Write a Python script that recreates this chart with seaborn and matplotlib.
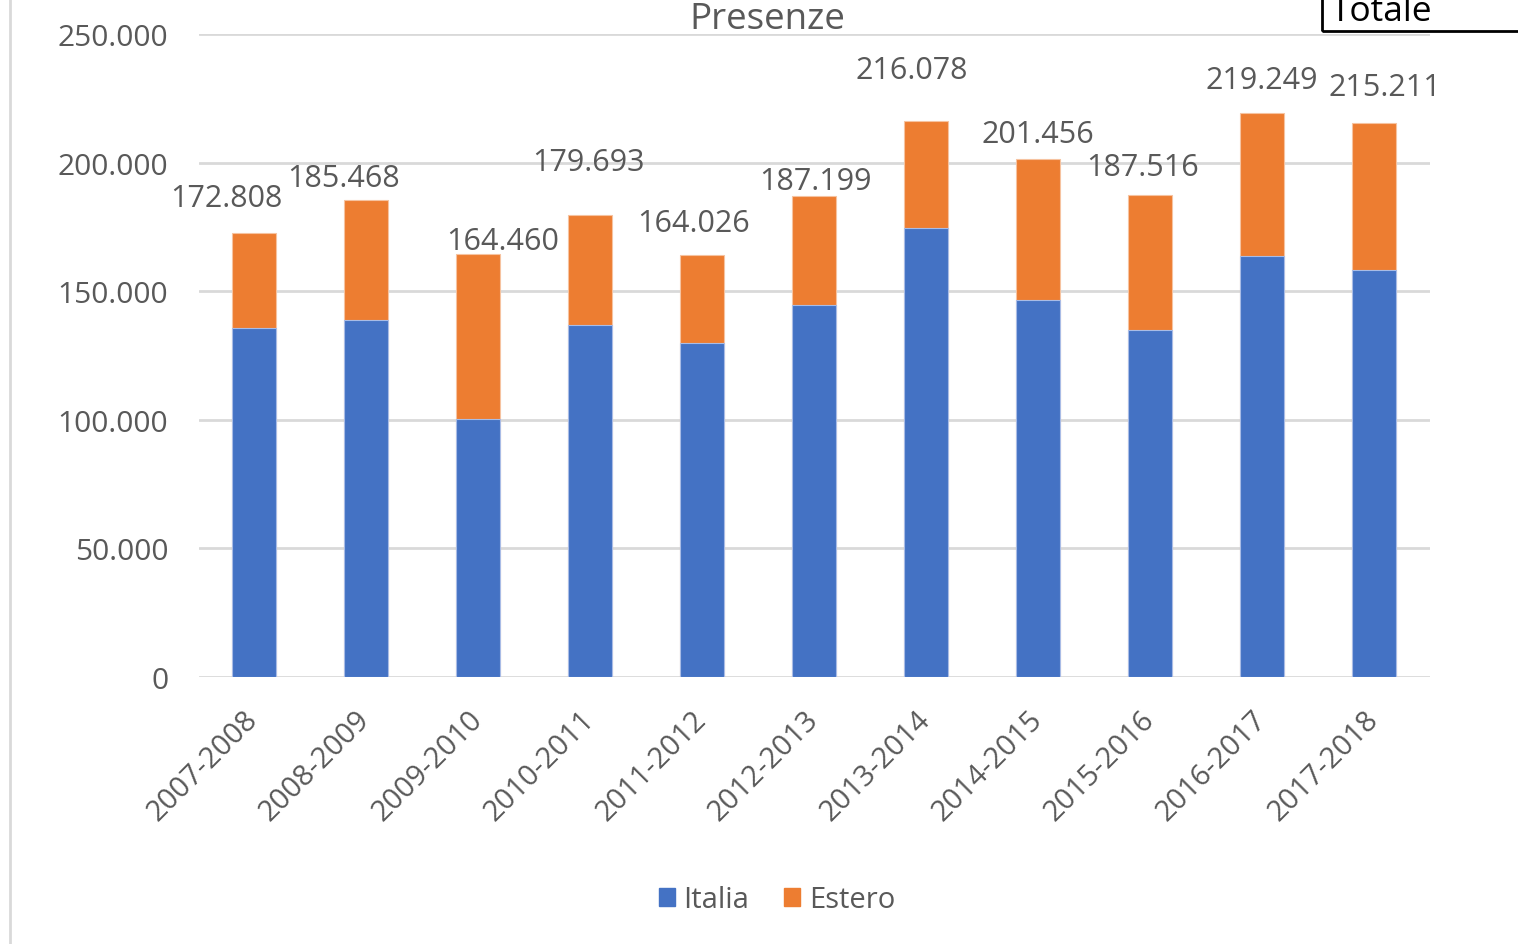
import matplotlib
matplotlib.use("Agg")
import matplotlib.pyplot as plt
import seaborn as sns
import pandas as pd
from matplotlib.patches import Patch, Rectangle
from matplotlib.lines import Line2D

seasons = ["2007-2008", "2008-2009", "2009-2010", "2010-2011", "2011-2012",
           "2012-2013", "2013-2014", "2014-2015", "2015-2016", "2016-2017", "2017-2018"]
totale = [172808, 185468, 164460, 179693, 164026, 187199, 216078, 201456, 187516, 219249, 215211]
italia = [135700, 138800, 100300, 136900, 129900, 144600, 174600, 146600, 134900, 163700, 158200]
total_labels = ["172.808", "185.468", "164.460", "179.693", "164.026", "187.199",
                "216.078", "201.456", "187.516", "219.249", "215.211"]
y_ticks = [0, 50000, 100000, 150000, 200000, 250000]
y_tick_labels = ["0", "50.000", "100.000", "150.000", "200.000", "250.000"]

# label placement offsets (points) relative to bar top centre (layout only)
label_dx = [-20, -16, 18, -1, -6, 1, -10, 0, -5, 0, 8]
label_dy = [25, 16, 9.5, 38, 23, 10.5, 37, 18, 20, 24, 26]

BLUE = "#4472C4"
ORANGE = "#ED7D31"
GREY = "#595959"

sns.set_theme(style="white")
plt.rcParams["font.family"] = ["Open Sans", "DejaVu Sans"]

df = pd.DataFrame({"season": seasons, "totale": totale, "italia": italia})
df["estero"] = df["totale"] - df["italia"]

fig = plt.figure(figsize=(15.18, 9.45), dpi=100)
ax = fig.add_axes([199 / 1518, 1 - 678 / 945, (1430 - 199) / 1518, 643 / 945])

sns.barplot(data=df, x="season", y="totale", color=ORANGE, width=0.39,
            saturation=1, ax=ax, edgecolor="#F6C3A0", linewidth=0.8, zorder=3)
sns.barplot(data=df, x="season", y="italia", color=BLUE, width=0.39,
            saturation=1, ax=ax, edgecolor="#A9BCE6", linewidth=0.8, zorder=4)

ax.set_ylim(0, 250000)
ax.set_xlim(-0.49, 10.5)
ax.set_yticks(y_ticks)
ax.set_yticklabels(y_tick_labels)
ax.yaxis.grid(True, color="#D9D9D9", linewidth=2)
ax.set_axisbelow(True)
for s in ax.spines.values():
    s.set_visible(False)
ax.set_xlabel("")
ax.set_ylabel("")
ax.tick_params(axis="y", length=0, pad=22, labelsize=21.5, labelcolor=GREY)
ax.tick_params(axis="x", length=0, pad=27, labelsize=21, labelcolor=GREY)
for lab in ax.get_xticklabels():
    lab.set_rotation(45)
    lab.set_ha("right")
    lab.set_va("center")
    lab.set_rotation_mode("anchor")

for i, (t, txt) in enumerate(zip(totale, total_labels)):
    ax.annotate(txt, xy=(i, t), xytext=(label_dx[i], label_dy[i]),
                textcoords="offset points", ha="center", va="center",
                fontsize=22, color=GREY, zorder=6)

fig.text(767 / 1518, 1 - 29 / 945, "Presenze", ha="center", va="baseline",
         fontsize=26.5, color=GREY)

# "Totale" box at top-right (clipped by the figure edge)
fig.patches.append(Rectangle((1322 / 1518, 1 - 32 / 945), 0.3, 0.1,
                             transform=fig.transFigure, fill=False,
                             edgecolor="black", linewidth=2))
fig.text(1331 / 1518, 1 - 21 / 945, "Totale", ha="left", va="baseline",
         fontsize=25.5, color="black")

# left border of chart area
fig.lines.append(Line2D([10 / 1518, 10 / 1518], [0, 1], transform=fig.transFigure,
                        color="#D9D9D9", linewidth=2))

handles = [Patch(facecolor=BLUE, edgecolor=BLUE), Patch(facecolor=ORANGE, edgecolor=ORANGE)]
fig.legend(handles, ["Italia", "Estero"], loc="center", bbox_to_anchor=(777 / 1518, 1 - 901 / 945),
           ncol=2, frameon=False, fontsize=21, handlelength=0.55, handleheight=0.55,
           handletextpad=0.3, columnspacing=1.2, labelcolor=GREY)

fig.savefig("out.png", dpi=100, facecolor="white")
